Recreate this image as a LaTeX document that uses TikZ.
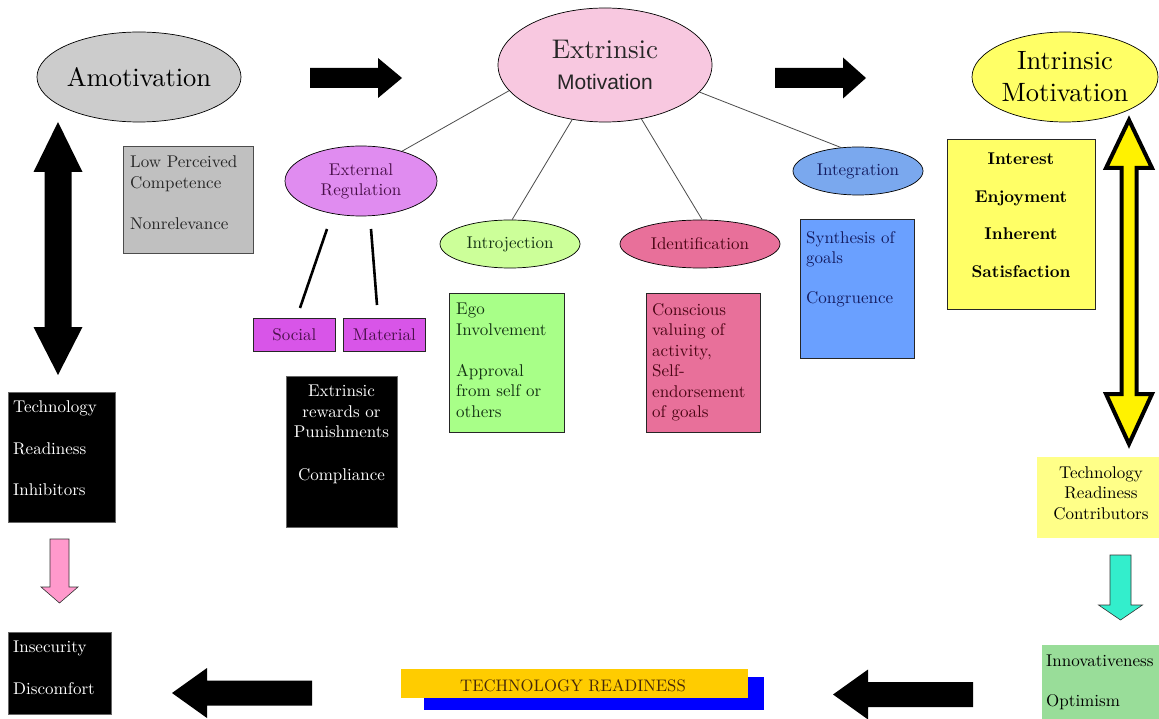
\documentclass[tikz,border=0pt]{standalone}
\usepackage{fontspec}
\newfontfamily\arialf{Liberation Sans}
\newfontfamily\serf{lmroman10}[Extension=.otf, UprightFont=*-regular, BoldFont=*-bold, ItalicFont=*-italic, BoldItalicFont=*-bolditalic]
\usetikzlibrary{shapes.geometric}
\newcommand\stxt{\serf\fontsize{17}{20.5}\selectfont}
% horizontal block arrow: style, xtail, xbase, xtip, yc, half body, half head
\newcommand\HBlk[7]{%
  \filldraw[#1] (#2,#5-#6) -- (#3,#5-#6) -- (#3,#5-#7) -- (#4,#5) -- (#3,#5+#7) -- (#3,#5+#6) -- (#2,#5+#6) -- cycle;}
% vertical block arrow: style, xc, ytail, ybase, ytip, half body, half head
\newcommand\VBlk[7]{%
  \filldraw[#1] (#2-#6,#3) -- (#2-#6,#4) -- (#2-#7,#4) -- (#2,#5) -- (#2+#7,#4) -- (#2+#6,#4) -- (#2+#6,#3) -- cycle;}
% vertical double block arrow: style, xc, ytop, ytopbase, ybotbase, ybot, half body, half head
\newcommand\VDBlk[8]{%
  \filldraw[#1] (#2,#3) -- (#2+#8,#4) -- (#2+#7,#4) -- (#2+#7,#5) -- (#2+#8,#5) -- (#2,#6) -- (#2-#8,#5) -- (#2-#7,#5) -- (#2-#7,#4) -- (#2-#8,#4) -- cycle;}
\definecolor{amogray}{HTML}{CCCCCC}
\definecolor{lpcgray}{HTML}{C0C0C0}
\definecolor{extpink}{HTML}{F8C8E0}
\definecolor{extregc}{HTML}{E08CF0}
\definecolor{socmag}{HTML}{D855E8}
\definecolor{introgreen}{HTML}{CCFF99}
\definecolor{egogreen}{HTML}{A8FF88}
\definecolor{identpink}{HTML}{E8709A}
\definecolor{integblue}{HTML}{7AA8EE}
\definecolor{synthblue}{HTML}{6AA0FF}
\definecolor{intryellow}{HTML}{FFFF66}
\definecolor{trcyellow}{HTML}{FFFF88}
\definecolor{innogreen}{HTML}{99DD99}
\definecolor{baryellow}{HTML}{FFCC00}
\definecolor{barblue}{HTML}{0000FF}
\definecolor{pinkarr}{HTML}{FF99CC}
\definecolor{cyanarr}{HTML}{33EECC}
\definecolor{dpurple}{HTML}{4A104A}
\definecolor{dgreen}{HTML}{143214}
\definecolor{dred}{HTML}{4A0514}
\definecolor{dblue}{HTML}{141C60}
\definecolor{dbrown}{HTML}{46280A}
\begin{document}
\begin{tikzpicture}[x=1pt,y=-1pt,
  ell/.style={ellipse, draw=black, line width=0.7pt, inner sep=0pt, align=center},
  box/.style={rectangle, draw=black!85, line width=0.7pt, inner sep=0pt, anchor=north west},
  nobox/.style={rectangle, draw=none, inner sep=0pt, anchor=north west},
  txt/.style={anchor=north west, align=left, inner sep=0pt, font=\stxt},
  ctxt/.style={anchor=north, align=center, inner sep=0pt, font=\stxt},
  conn/.style={draw=black!70, line width=0.8pt},
  thick conn/.style={draw=black, line width=2.6pt},
  blk/.style={fill=black, draw=none},
  yarr/.style={fill=yellow, draw=black, line width=4pt, line join=miter},
  parr/.style={fill=pinkarr, draw=black!80, line width=0.6pt},
  carr/.style={fill=cyanarr, draw=black!80, line width=0.6pt}]
\useasboundingbox (0,0) rectangle (1159,719);
\fill[white] (0,0) rectangle (1159,719);

% ---------- ellipses ----------
\node[ell, fill=amogray, minimum width=197, minimum height=90,
      font=\serf\fontsize{26.5}{32}\selectfont] (amo) at (139,77) {Amotivation};
\node[ell, fill=extpink, minimum width=214, minimum height=114,
      font=\serf\fontsize{27}{31}\selectfont, text=black!85] (ext) at (605,65)
      {Extrinsic\\{\arialf\fontsize{21}{31}\selectfont Motivation}};
\node[ell, fill=intryellow, minimum width=186, minimum height=90,
      font=\serf\fontsize{26.5}{32}\selectfont] (intr) at (1065,77) {Intrinsic\\Motivation};
\node[ell, fill=extregc, minimum width=152, minimum height=70,
      font=\serf\fontsize{17}{20}\selectfont, text=dpurple] (extreg) at (361,181) {External\\Regulation};
\node[ell, fill=introgreen, minimum width=140, minimum height=48,
      font=\stxt, text=dgreen] (intro) at (510,244) {Introjection};
\node[ell, fill=identpink, minimum width=160, minimum height=48,
      font=\stxt, text=dred] (ident) at (700,244) {Identification};
\node[ell, fill=integblue, minimum width=130, minimum height=48,
      font=\stxt, text=dblue] (integ) at (858,171) {Integration};

% ---------- connectors ----------
\draw[conn] (ext.195.9) -- (extreg.36.6);
\draw[conn] (ext.239) -- (intro.85);
\draw[conn] (ext.304) -- (ident.85);
\draw[conn] (ext.344.4) -- (integ.126.9);

\coordinate (er1) at (327,229);
\coordinate (so1) at (300,308);
\coordinate (er2) at (371,229);
\coordinate (ma1) at (377,305);
\draw[thick conn] (er1) -- (so1);
\draw[thick conn] (er2) -- (ma1);

% ---------- boxes ----------
\node[box, draw=black!70, fill=lpcgray, minimum width=130, minimum height=107] (lpc) at (123,146) {};
\node[txt, text=black!85] (lpct) at (130,156) {Low Perceived\\Competence\\[20.5pt]Nonrelevance};

\node[box, fill=socmag, minimum width=82, minimum height=33] (social) at (253,318) {};
\node[font=\stxt, text=dpurple, inner sep=0pt] (socialt) at (social.center) {Social};
\node[box, fill=socmag, minimum width=82, minimum height=33] (material) at (343,318) {};
\node[font=\stxt, text=dpurple, inner sep=0pt] (materialt) at (material.center) {Material};

\node[box, fill=egogreen, minimum width=115, minimum height=139] (ego) at (449,293) {};
\node[txt, text=dgreen] (egot) at (456,303) {Ego\\Involvement\\[20.5pt]Approval\\from self or\\others};

\node[box, fill=identpink, minimum width=114, minimum height=139] (consc) at (646,293) {};
\node[txt, text=dred] (consct) at (652,303) {Conscious\\valuing of\\activity,\\Self-\\endorsement\\of goals};

\node[box, fill=synthblue, minimum width=114, minimum height=139] (synth) at (800,219) {};
\node[txt, text=dblue] (syntht) at (806,231) {Synthesis of\\goals\\[19.5pt]Congruence};

\node[box, fill=intryellow, minimum width=148, minimum height=170] (interest) at (947,139) {};
\node[ctxt, font=\serf\fontsize{17}{37.5}\selectfont\bfseries] (interestt) at (1021,153)
     {Interest\\Enjoyment\\Inherent\\Satisfaction};

\node[box, draw=black!60, fill=black, minimum width=107, minimum height=130] (inhib) at (8,392) {};
\node[txt, text=white, font=\serf\fontsize{17}{41}\selectfont] (inhibt) at (13,401) {Technology\\Readiness\\Inhibitors};

\node[box, draw=black!60, fill=black, minimum width=111, minimum height=151] (rewards) at (286,376) {};
\node[ctxt, text=white] (rewardst) at (341.5,385) {Extrinsic\\rewards or\\Punishments\\[22pt]Compliance};

\node[box, draw=black!60, fill=black, minimum width=103, minimum height=82] (insec) at (8,632) {};
\node[txt, text=white] (insect) at (13,641) {Insecurity\\[21pt]Discomfort};

\node[nobox, fill=trcyellow, minimum width=122, minimum height=81] (trc) at (1037,457) {};
\node[ctxt] (trct) at (1101,466) {Technology\\Readiness\\Contributors};

\node[nobox, fill=innogreen, minimum width=117, minimum height=74] (inno) at (1042,645) {};
\node[txt] (innot) at (1046,655) {Innovativeness\\[19.5pt]Optimism};

\node[nobox, fill=barblue, minimum width=340, minimum height=33] (barb) at (424,677) {};
\node[nobox, fill=baryellow, minimum width=347, minimum height=29] (bary) at (401,669) {};
\node[anchor=base, inner sep=0pt, font=\serf\fontsize{16.7}{20}\selectfont, text=dbrown] (trt) at (573,691) {TECHNOLOGY READINESS};

% ---------- block arrows ----------
\HBlk{blk}{310}{378}{402}{78}{10}{20}
\HBlk{blk}{775}{843}{866}{78}{10}{20.5}
\HBlk{blk}{973}{868}{833}{694.5}{12.5}{25}
\HBlk{blk}{312}{207}{172}{693}{12.5}{25}
\VDBlk{blk}{58}{122}{172}{327}{375}{13.5}{24.5}
\VDBlk{yarr}{1129}{120}{168}{394}{444}{7.5}{23}
\VBlk{parr}{59.5}{539}{587}{603}{9.5}{18.5}
\VBlk{carr}{1120.5}{555}{605}{620}{10.5}{22}
\end{tikzpicture}
\end{document}
